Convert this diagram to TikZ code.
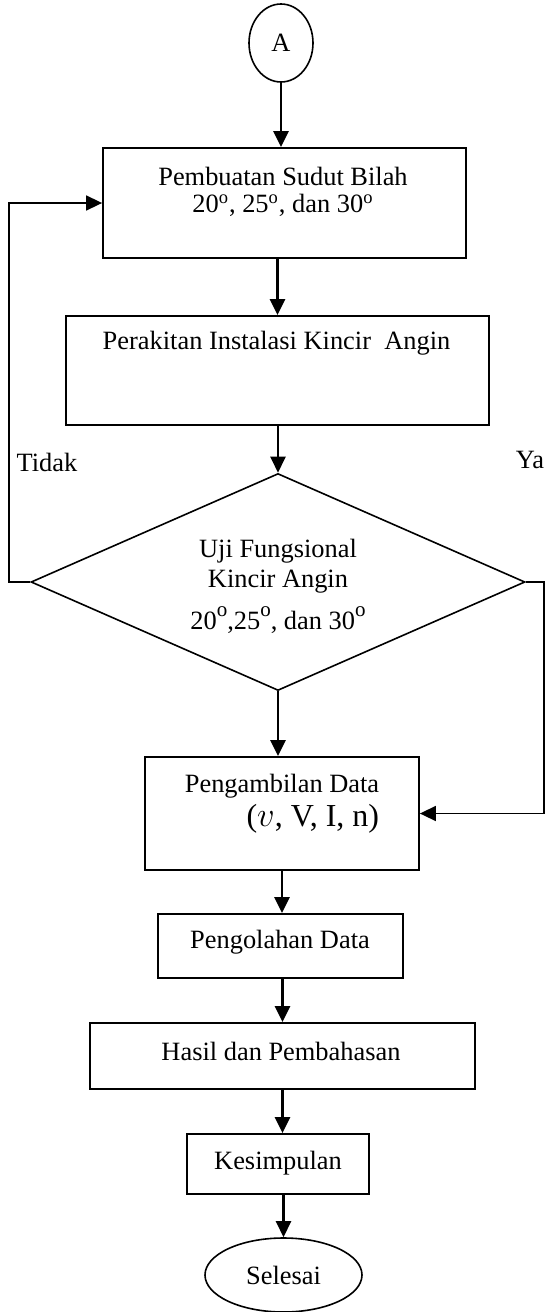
\documentclass[tikz,border=0pt]{standalone}
\usepackage{amsmath}
\usepackage{fontspec}
\setmainfont{Liberation Serif}
\usetikzlibrary{arrows.meta, shapes.geometric}

\newcommand{\dg}{\textsuperscript{o}}
\newcommand{\bigdg}{\raisebox{6.2pt}{\fontsize{10.5}{10.5}\selectfont o}}

\begin{document}
\fontsize{13.2}{15}\selectfont
\begin{tikzpicture}[x = 0.5pt, y = -0.5pt,
                        box/.style = {rectangle, draw, line width = 0.9pt, inner sep = 0pt},
                        term/.style = {ellipse, draw, line width = 0.8pt, inner sep = 0pt},
                        cond/.style = {diamond, draw, line width = 0.8pt, inner sep = 0pt, aspect = 2.28},
                        txt/.style = {inner sep = 0pt, align = center},
                        arr/.style = {-{Triangle[length = 8pt, width = 7.5pt]}, line width = 1.2pt},
                        feed/.style = {-{Triangle[length = 8pt, width = 7.5pt]}, line width = 0.8pt}]
      \useasboundingbox (0, 0) rectangle (549, 1312);
      % shapes
      \node [term, minimum width = 32pt, minimum height = 39pt] (A) at (281, 43){};
      \node [box, minimum width = 181.5pt, minimum height = 55pt] (b1) at (284.5, 203){};
      \node [box, minimum width = 211.5pt, minimum height = 54.5pt] (b2) at (277.5, 370.5){};
      \node [cond, minimum width = 247pt, minimum height = 108.5pt] (dia) at (278, 582){};
      \node [box, minimum width = 137pt, minimum height = 56.5pt] (b3) at (282, 813.5){};
      \node [box, minimum width = 122.5pt, minimum height = 32pt] (b4) at (280.5, 946){};
      \node [box, minimum width = 192.5pt, minimum height = 33pt] (b5) at (282.5, 1056){};
      \node [box, minimum width = 91pt, minimum height = 30pt] (b6) at (278, 1164){};
      \node [term, minimum width = 78.5pt, minimum height = 37pt] (end) at (283.5, 1275){};
      % texts
      \node [txt] (tA) at (281, 43){A};
      \node [txt] (t1) at (283, 191.5){Pembuatan Sudut Bilah\\[-1.5pt]20\dg, 25\dg, dan 30\dg};
      \node [txt] (t2) at (276.5, 343){Perakitan Instalasi Kincir\ \ Angin};
      \node [txt] (td) at (278, 586){Uji Fungsional\\Kincir Angin\\[6pt]20\bigdg,25\bigdg, dan 30\bigdg};
      \node [txt, align = right] (t3) at (282, 803.5){Pengambilan Data\\[2pt]{\fontsize{16}{18}\selectfont ($v$, V, I, n)}};
      \node [txt] (t4) at (280, 942){Pengolahan Data};
      \node [txt] (t5) at (281, 1051){Hasil dan Pembahasan};
      \node [txt] (t6) at (278, 1163){Kesimpulan};
      \node [txt] (tE) at (283.5, 1275){Selesai};
      \node [txt] (no) at (47, 462){Tidak};
      \node [txt] (yes) at (530, 460){Ya};
      \coordinate (loopL) at (9, 0);
      \coordinate (loopR) at (544, 0);
      % connectors
      \draw [arr] (A) -- (A |- b1.north);
      \draw [arr] (b2.north |- b1.south) -- (b2.north);
      \draw [arr] (dia.north |- b2.south) -- (dia.north);
      \draw [arr] (dia.south) -- (dia.south |- b3.north);
      \draw [arr] (b3.south) -- (b3.south |- b4.north);
      \draw [arr] (b5.north |- b4.south) -- (b5.north);
      \draw [arr] (b5.south) -- (b5.south |- b6.north);
      \draw [arr] (end.north |- b6.south) -- (end.north);
      \draw [feed] (dia.west) -- (dia.west -| loopL) |- (b1.west);
      \draw [feed] (dia.east) -- (dia.east -| loopR) |- (b3.east);
    \end{tikzpicture}
\end{document}
